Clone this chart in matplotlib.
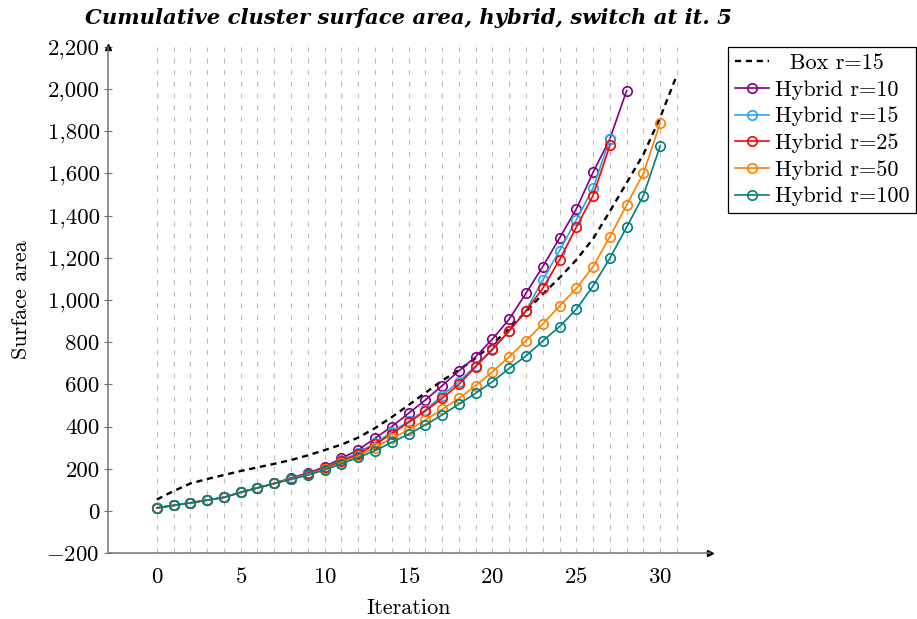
import numpy as np
import matplotlib
matplotlib.use('Agg')
import matplotlib.pyplot as plt
from matplotlib.ticker import FuncFormatter

plt.rcParams['font.family'] = 'serif'
plt.rcParams['font.serif'] = ['cmr10']
plt.rcParams['mathtext.fontset'] = 'cm'
plt.rcParams['axes.formatter.use_mathtext'] = True

# Box reference curve (r=15), one value per iteration
box_iter = list(range(0, 32))
box_r15 = [55, 95, 131, 152, 171, 190, 207, 224, 242, 264, 289, 315, 348, 393, 445, 502,
           560, 618, 668, 725, 790, 865, 945, 1028, 1105, 1190, 1290, 1420, 1555, 1690,
           1865, 2067]

# Hybrid runs, switch at iteration 5
hyb_r10 = [15, 27, 39, 52, 65, 89, 110, 131, 158, 180, 210, 250, 290, 345, 400, 463,
           526, 594, 664, 731, 815, 909, 1032, 1158, 1293, 1431, 1605, 1763, 1992]
hyb_r15 = [15, 27, 39, 52, 65, 89, 110, 131, 154, 176, 205, 240, 276, 322, 375, 425,
           478, 547, 613, 688, 763, 853, 950, 1095, 1234, 1379, 1530, 1763]
hyb_r25 = [15, 27, 39, 52, 65, 89, 110, 131, 153, 175, 203, 236, 270, 316, 366, 420,
           474, 534, 600, 684, 768, 853, 948, 1055, 1190, 1345, 1495, 1732]
hyb_r50 = [15, 27, 39, 52, 65, 89, 110, 131, 152, 173, 198, 230, 262, 300, 345, 384,
           431, 482, 534, 594, 660, 731, 807, 886, 972, 1055, 1158, 1300, 1450, 1600,
           1838]
hyb_r100 = [15, 27, 39, 52, 65, 89, 110, 131, 150, 170, 195, 224, 254, 286, 326, 364,
            408, 455, 507, 558, 613, 676, 735, 806, 874, 956, 1067, 1198, 1345, 1495,
            1730]

series = [
    ('Hybrid r=10', hyb_r10, '#800080'),
    ('Hybrid r=15', hyb_r15, '#1ea9ec'),
    ('Hybrid r=25', hyb_r25, '#ff0000'),
    ('Hybrid r=50', hyb_r50, '#ff8000'),
    ('Hybrid r=100', hyb_r100, '#008080'),
]

fig = plt.figure(figsize=(9.17, 6.19), dpi=100)
ax = fig.add_axes([0.1174, 0.1061, 0.6569, 0.8185])

# vertical dashed grid at every iteration
for i in box_iter:
    ax.axvline(i, color='#bdbdbd', lw=0.8, dashes=(4.5, 6), zorder=0)

ax.plot(box_iter, box_r15, color='black', lw=1.7, dashes=(2.6, 2.0), label='  Box r=15', zorder=3)
for name, vals, col in series:
    ax.plot(range(len(vals)), vals, color=col, lw=1.2, marker='o', ms=6.8,
            mfc='none', mec=col, mew=1.2, label=name, zorder=4)

ax.set_xlim(-2.93, 32.97)
ax.set_ylim(-200, 2200)
ax.set_xticks([0, 5, 10, 15, 20, 25, 30])
ax.set_yticks(range(-200, 2201, 200))


def fmt(v, pos):
    v = int(round(v))
    s = f'{abs(v):,}'
    return ('$-$' + s) if v < 0 else s


ax.yaxis.set_major_formatter(FuncFormatter(fmt))
ax.tick_params(axis='x', length=0, pad=10, labelsize=16.5)
ax.tick_params(axis='y', direction='inout', length=5.5, width=0.8, color='0.45', pad=3,
               labelsize=16.5)

for s in ['top', 'right']:
    ax.spines[s].set_visible(False)
for s in ['left', 'bottom']:
    ax.spines[s].set_color('0.45')
    ax.spines[s].set_linewidth(1.1)

# arrow tips on axes
ax.plot(1, 0, marker='>', ms=4, color='black', transform=ax.transAxes, clip_on=False)
ax.plot(0, 1, marker='^', ms=4, color='black', transform=ax.transAxes, clip_on=False)

ax.set_xlabel('Iteration', fontsize=16, labelpad=8)
ax.set_ylabel('Surface area', fontsize=16, labelpad=11)
ax.set_title('Cumulative cluster surface area, hybrid, switch at it. 5',
             fontsize=15.2, fontfamily='DejaVu Serif', fontweight='bold', fontstyle='italic',
             pad=16)

leg = ax.legend(loc='upper left', bbox_to_anchor=(1.03, 1.0), fontsize=16, frameon=True,
                fancybox=False, edgecolor='black', framealpha=1, handlelength=1.55,
                handletextpad=0.25, labelspacing=0.32, borderpad=0.3, borderaxespad=0)
leg.get_frame().set_linewidth(0.9)

fig.savefig('out.png', dpi=100)
